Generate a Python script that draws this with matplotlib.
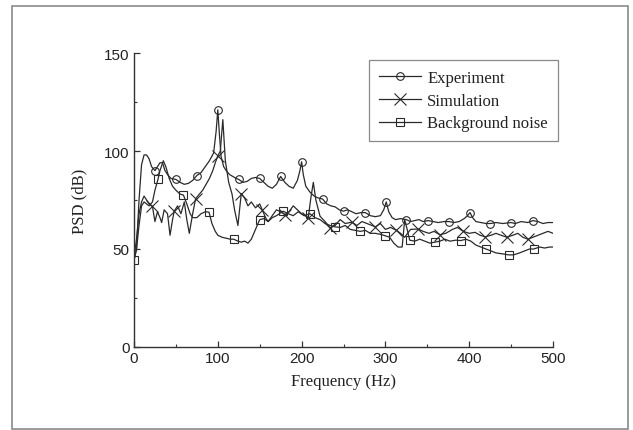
import matplotlib
matplotlib.use('Agg')
import matplotlib.pyplot as plt
from matplotlib.patches import Rectangle

# Experiment (circles)
exp_f = [0, 3, 6, 9, 12, 15, 18, 21, 25, 28, 31, 34, 37, 40, 44, 50, 55, 60, 65, 70,
         75, 80, 85, 90, 95, 98, 100, 102, 104, 107, 110, 114, 118, 122, 125, 130, 135,
         140, 145, 150, 155, 160, 165, 170, 175, 180, 185, 190, 195, 198, 200, 202, 205,
         210, 215, 220, 225, 230, 235, 240, 245, 250, 255, 260, 265, 270, 276, 282, 288,
         294, 298, 301, 304, 308, 312, 318, 325, 330, 335, 340, 345, 351, 357, 363, 370,
         376, 382, 388, 394, 398, 401, 404, 408, 414, 420, 425, 432, 440, 450, 455, 462,
         470, 476, 482, 488, 494, 500]
exp_v = [44, 50, 75, 93, 98, 98, 96, 92, 90, 92, 94, 94, 90, 88, 86, 85.5, 84, 83, 83.5, 85,
         87.5, 89, 92, 95, 99, 110, 121, 108, 97, 92, 90, 88, 87, 86, 85.5, 84, 84.5,
         86, 86.5, 86, 84, 82, 81, 83, 87, 84, 82, 81, 85, 90, 94.5, 88, 82,
         79, 77, 76, 75.5, 73, 72, 71.5, 70, 69.3, 70, 69, 68, 68.5, 68.6, 67, 66.5,
         67, 70, 74, 69, 66, 65, 65.5, 65, 64, 64.5, 65, 64, 64.5, 64, 63.5, 64,
         64, 63.5, 64, 65.5, 67, 68.6, 66, 64, 63.5, 63, 63, 63.5, 63, 63.5, 63, 64,
         63.5, 64.5, 64, 63, 63.5, 63.5]
exp_marks = [25, 50, 75, 100, 125, 150, 175, 200, 225, 250, 276, 301, 325, 351, 376,
             401, 425, 450, 476]

# Simulation (crosses)
sim_f = [0, 3, 6, 9, 12, 15, 18, 22, 25, 28, 31, 33, 36, 40, 43, 46, 48, 52, 56, 60,
         63, 66, 70, 73.5, 78, 82, 86, 90, 94, 97, 100, 103, 106, 109, 113, 117, 120,
         124, 128, 132, 136, 140, 145, 150, 153, 157, 160, 165, 170, 175, 180, 185, 190,
         195, 200, 204, 208, 211, 214, 217, 222, 228, 234, 240, 246, 252, 260, 266, 272,
         278, 284, 288, 294, 300, 306, 313, 318, 323, 330, 339, 345, 352, 358, 365, 372,
         380, 386, 393, 400, 407, 413, 419, 426, 432, 438, 445, 452, 458, 464, 470, 476,
         482, 488, 494, 500]
sim_v = [46, 55, 68, 74, 77, 75, 73, 71.7, 64, 69, 66, 63.5, 70, 68, 57, 65, 69.3, 72, 68, 74,
         65, 58, 68, 75.6, 78, 80, 83, 86, 90, 94, 97.5, 100, 116, 95, 84, 78, 70,
         62, 78.3, 76, 72, 74, 71, 73, 70, 66, 64, 67, 70, 69, 67.6, 69, 72,
         70, 68, 67, 66, 76, 84, 75, 66.7, 64, 60.8, 62, 65, 63, 63.7, 62, 64,
         63, 62, 61.3, 63, 60, 61, 59.6, 58, 56, 60, 60.2, 59, 58, 59, 57.3, 58,
         60, 61, 59, 58, 58.5, 57, 56.2, 57, 58, 57, 56, 57, 58, 56, 55, 56,
         57, 58, 59, 58]
sim_marks = [22, 48, 73.5, 100, 128, 153, 180, 208, 234, 260, 288, 313, 339, 365, 393,
             419, 445, 470]

# Background noise (squares)
bg_f = [0, 3, 6, 9, 12, 15, 18, 22, 25, 28.6, 31, 35, 38, 42, 46, 50, 55, 59, 63, 67,
        70, 75, 80, 85, 89.5, 93, 97, 100, 105, 110, 115, 119, 124, 128, 132, 136, 140,
        144, 150, 155, 160, 165, 170, 178, 184, 190, 196, 203, 210, 216, 222, 228, 234,
        240, 246, 252, 258, 264, 270, 276, 282, 288, 294, 299.5, 305, 310, 315, 320, 323,
        326, 329, 335, 341, 347, 353, 359, 365, 371, 377, 384, 390, 396, 402, 408, 414,
        420, 426, 432, 440, 447, 453, 460, 466, 472, 477, 484, 490, 496, 500]
bg_v = [44.5, 50, 62, 72, 74, 73, 72, 74, 80, 85.5, 90, 95, 92, 86, 82, 80, 78, 77.5, 73, 68,
        66, 66, 68, 69, 68.8, 63, 59, 57, 56, 55.5, 55, 55, 54, 53.5, 54, 53, 55,
        59, 65, 65.5, 64, 66, 67, 69.3, 68, 67, 69, 67, 68, 66, 65, 63, 62,
        61.3, 61, 62, 60, 59.5, 59, 59.5, 58, 58, 57.5, 56.8, 56, 53, 51, 51, 65,
        60, 54.5, 54, 55, 54, 53, 53.5, 54, 55, 54, 54.5, 54.3, 55, 54, 52, 51,
        50, 49, 48, 47.5, 47, 47, 48, 49, 50, 50, 51, 50.5, 51, 51]
bg_marks = [0, 28.6, 59, 89.5, 119, 150, 178, 210, 240, 270, 299.5, 329, 359, 390, 420,
            447, 477]

W, H = 633, 431
fig = plt.figure(figsize=(W / 100, H / 100), dpi=100)
ax = fig.add_axes([134 / W, 1 - 348 / H, (553 - 134) / W, (348 - 54) / H])

# figure frame
fig.patches.append(Rectangle((12 / W, 1 / H), (628 - 12) / W, (430 - 7) / H,
                             transform=fig.transFigure, fill=False,
                             edgecolor='#8a8a8a', linewidth=1.2))

lc = '#2a2a2a'
common = dict(color=lc, linewidth=0.9, markerfacecolor='none',
              markeredgecolor=lc, markeredgewidth=0.8)
ax.plot(exp_f, exp_v, marker='o', markersize=5.5,
        markevery=[exp_f.index(m) for m in exp_marks], label='Experiment', **common)
ax.plot(sim_f, sim_v, marker='x', markersize=8,
        markevery=[sim_f.index(m) for m in sim_marks], label='Simulation', **common)
ax.plot(bg_f, bg_v, marker='s', markersize=5.5,
        markevery=[bg_f.index(m) for m in bg_marks], label='Background noise', **common)

ax.set_xlim(0, 500)
ax.set_ylim(0, 150)
ax.set_xticks([0, 100, 200, 300, 400, 500])
ax.set_xticks([50, 150, 250, 350, 450], minor=True)
ax.set_yticks([0, 50, 100, 150])
ax.set_yticks([25, 75, 125], minor=True)
ax.spines['top'].set_visible(False)
ax.spines['right'].set_visible(False)
for s in ['left', 'bottom']:
    ax.spines[s].set_color('#333333')
    ax.spines[s].set_linewidth(1.0)
ax.tick_params(which='major', direction='in', length=4, width=0.9, color='#333333',
               labelsize=11, pad=3)
ax.tick_params(which='minor', direction='in', length=2.5, width=0.8, color='#333333')
for lab in ax.get_xticklabels() + ax.get_yticklabels():
    lab.set_family(['Liberation Sans', 'DejaVu Sans'])
    lab.set_color('#222222')

serif = ['Liberation Serif', 'DejaVu Serif']
ax.set_xlabel('Frequency (Hz)', family=serif, fontsize=12, color='#222222', labelpad=6)
ax.set_ylabel('PSD (dB)', family=serif, fontsize=12, color='#222222', labelpad=12)

leg = ax.legend(loc='upper left', bbox_to_anchor=(369 / W, 1 - 61 / H),
                bbox_transform=fig.transFigure, borderaxespad=0,
                prop={'family': serif, 'size': 12}, handlelength=2.5,
                labelspacing=0.4, handletextpad=0.4, borderpad=0.6,
                fancybox=False, framealpha=1)
leg.get_frame().set_edgecolor('#8a8a8a')
leg.get_frame().set_linewidth(0.9)
for t in leg.get_texts():
    t.set_color('#222222')

fig.savefig('out.png', dpi=100)
